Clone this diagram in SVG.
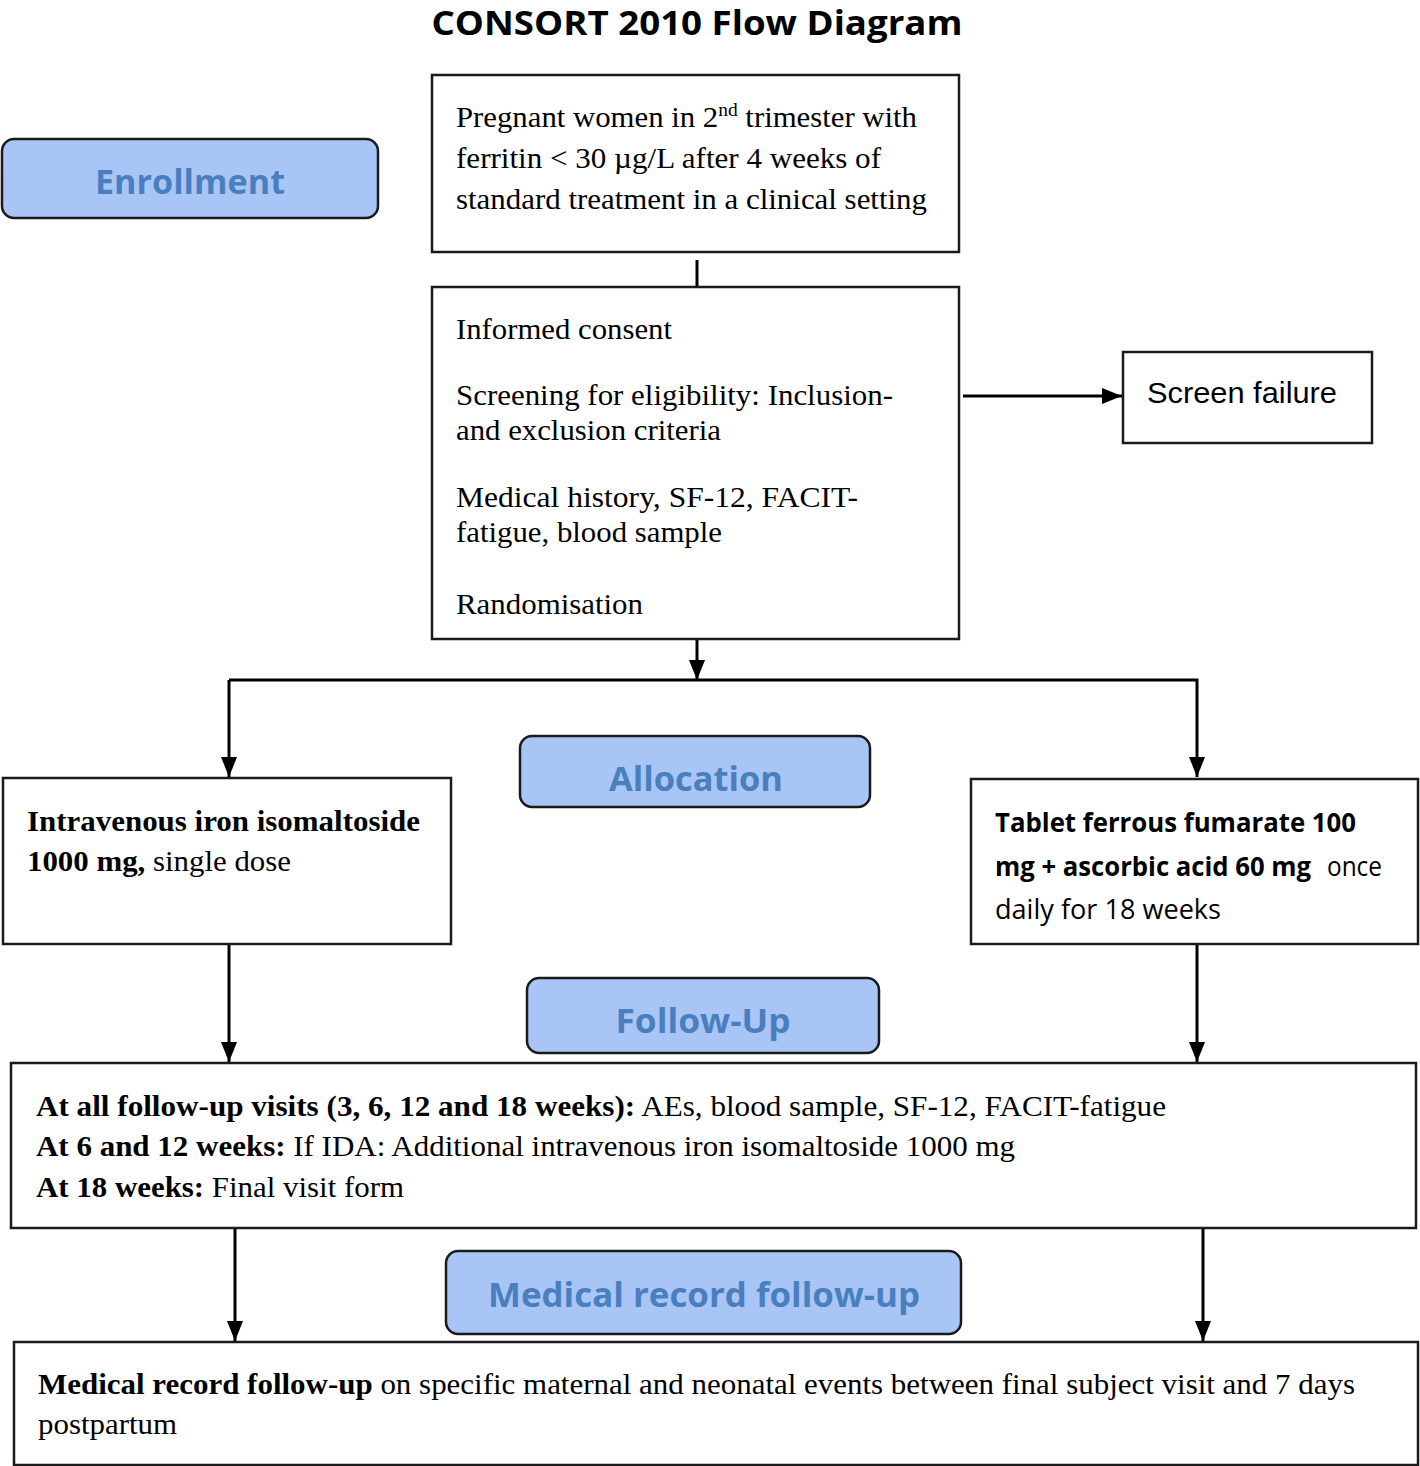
<svg xmlns="http://www.w3.org/2000/svg" width="1420" height="1466" viewBox="0 0 1420 1466">
<defs>
<style>
.box{fill:#fff;stroke:#1a1a1a;stroke-width:2.5}
.lab{fill:#a8c5f6;stroke:#1a1a1a;stroke-width:2.5}
.labt{font-family:"Open Sans","Liberation Sans",sans-serif;font-weight:bold;fill:#4a7fbf;text-anchor:middle}
.tr{font-family:"Liberation Serif","Times New Roman",serif;font-size:30px;fill:#000}
.cb{font-family:"Open Sans","Liberation Sans",sans-serif;font-size:27px;fill:#000}
.b{font-weight:bold}
.con{stroke:#000;stroke-width:3;fill:none}
</style>
<marker id="arr" markerUnits="userSpaceOnUse" markerWidth="20" markerHeight="16" refX="20" refY="8" orient="auto">
<path d="M0,0 L20,8 L0,16 z" fill="#000"/>
</marker>
</defs>
<rect width="1420" height="1466" fill="#fff"/>
<text x="697" y="35" font-family="'Open Sans','Liberation Sans',sans-serif" font-weight="bold" font-size="34" text-anchor="middle" textLength="531" lengthAdjust="spacingAndGlyphs">CONSORT 2010 Flow Diagram</text>

<g id="connectors">
<line class="con" x1="697" y1="260" x2="697" y2="287"/>
<line class="con" x1="963" y1="396" x2="1122" y2="396" marker-end="url(#arr)"/>
<line class="con" x1="697" y1="640" x2="697" y2="680" marker-end="url(#arr)"/>
<polyline class="con" points="229,680 1197,680 1197,777" marker-end="url(#arr)"/>
<line class="con" x1="229" y1="680" x2="229" y2="777" marker-end="url(#arr)"/>
<line class="con" x1="229" y1="944" x2="229" y2="1062" marker-end="url(#arr)"/>
<line class="con" x1="1197" y1="944" x2="1197" y2="1062" marker-end="url(#arr)"/>
<line class="con" x1="235" y1="1228" x2="235" y2="1341" marker-end="url(#arr)"/>
<line class="con" x1="1203" y1="1228" x2="1203" y2="1341" marker-end="url(#arr)"/>
</g>

<g id="enrollment">
<rect class="lab" x="2" y="139" width="376" height="79" rx="12"/>
<text class="labt" x="190" y="194" font-size="34" textLength="190" lengthAdjust="spacingAndGlyphs">Enrollment</text>
</g>

<g id="eligible">
<rect class="box" x="432" y="75" width="527" height="177"/>
<text class="tr" x="456" y="127" textLength="461" lengthAdjust="spacingAndGlyphs">Pregnant women in 2<tspan font-size="19" dy="-11">nd</tspan><tspan dy="11"> trimester with</tspan></text>
<text class="tr" x="456" y="168" textLength="425" lengthAdjust="spacingAndGlyphs">ferritin &lt; 30 µg/L after 4 weeks of</text>
<text class="tr" x="456" y="209" textLength="471" lengthAdjust="spacingAndGlyphs">standard treatment in a clinical setting</text>
</g>

<g id="screening">
<rect class="box" x="432" y="287" width="527" height="352"/>
<text class="tr" x="456" y="339" textLength="216" lengthAdjust="spacingAndGlyphs">Informed consent</text>
<text class="tr" x="456" y="405" textLength="437" lengthAdjust="spacingAndGlyphs">Screening for eligibility: Inclusion-</text>
<text class="tr" x="456" y="440" textLength="265" lengthAdjust="spacingAndGlyphs">and exclusion criteria</text>
<text class="tr" x="456" y="507" textLength="402" lengthAdjust="spacingAndGlyphs">Medical history, SF-12, FACIT-</text>
<text class="tr" x="456" y="542" textLength="266" lengthAdjust="spacingAndGlyphs">fatigue, blood sample</text>
<text class="tr" x="456" y="614" textLength="187" lengthAdjust="spacingAndGlyphs">Randomisation</text>
</g>

<g id="screen-failure">
<rect class="box" x="1123" y="352" width="249" height="91"/>
<text x="1147" y="403" font-family="'Liberation Sans',Arial,sans-serif" font-size="29" textLength="190" lengthAdjust="spacingAndGlyphs">Screen failure</text>
</g>

<g id="allocation">
<rect class="lab" x="520" y="736" width="350" height="71" rx="12"/>
<text class="labt" x="696" y="791" font-size="34" textLength="174" lengthAdjust="spacingAndGlyphs">Allocation</text>
</g>

<g id="iv-arm">
<rect class="box" x="3" y="778" width="448" height="166"/>
<text class="tr b" x="27" y="831" textLength="393" lengthAdjust="spacingAndGlyphs">Intravenous iron isomaltoside</text>
<text class="tr" x="27" y="871" textLength="264" lengthAdjust="spacingAndGlyphs"><tspan class="b">1000 mg,</tspan> single dose</text>
</g>

<g id="oral-arm">
<rect class="box" x="971" y="779" width="447" height="165"/>
<text class="cb b" x="995" y="832" textLength="361" lengthAdjust="spacingAndGlyphs">Tablet ferrous fumarate 100</text>
<text class="cb b" x="995" y="876" font-size="25" textLength="316" lengthAdjust="spacingAndGlyphs">mg + ascorbic acid 60 mg</text>
<text class="cb" x="1327" y="876" textLength="55" lengthAdjust="spacingAndGlyphs">once</text>
<text class="cb" x="995" y="919" textLength="226" lengthAdjust="spacingAndGlyphs">daily for 18 weeks</text>
</g>

<g id="follow-up-label">
<rect class="lab" x="527" y="978" width="352" height="75" rx="12"/>
<text class="labt" x="703" y="1033" font-size="34" textLength="175" lengthAdjust="spacingAndGlyphs">Follow-Up</text>
</g>

<g id="follow-up">
<rect class="box" x="11" y="1063" width="1405" height="165"/>
<text class="tr" x="36" y="1116" textLength="1130" lengthAdjust="spacingAndGlyphs"><tspan class="b">At all follow-up visits (3, 6, 12 and 18 weeks):</tspan> AEs, blood sample, SF-12, FACIT-fatigue</text>
<text class="tr" x="36" y="1156" textLength="979" lengthAdjust="spacingAndGlyphs"><tspan class="b">At 6 and 12 weeks:</tspan> If IDA: Additional intravenous iron isomaltoside 1000 mg</text>
<text class="tr" x="36" y="1197" textLength="368" lengthAdjust="spacingAndGlyphs"><tspan class="b">At 18 weeks:</tspan> Final visit form</text>
</g>

<g id="medical-record-label">
<rect class="lab" x="446" y="1251" width="515" height="83" rx="12"/>
<text class="labt" x="704" y="1307" font-size="34" textLength="432" lengthAdjust="spacingAndGlyphs">Medical record follow-up</text>
</g>

<g id="medical-record">
<rect class="box" x="14" y="1342" width="1404" height="123"/>
<text class="tr" x="38" y="1394" textLength="1317" lengthAdjust="spacingAndGlyphs"><tspan class="b">Medical record follow-up</tspan> on specific maternal and neonatal events between final subject visit and 7 days</text>
<text class="tr" x="38" y="1434" textLength="139" lengthAdjust="spacingAndGlyphs">postpartum</text>
</g>
</svg>
